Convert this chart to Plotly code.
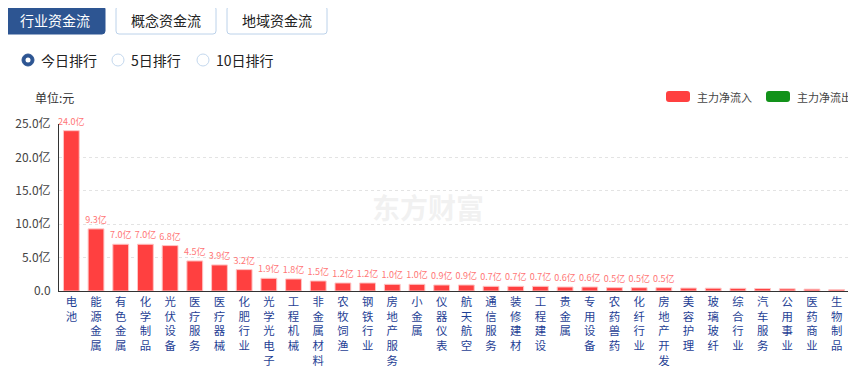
import plotly.graph_objects as go

categories = ["电池", "能源金属", "有色金属", "化学制品", "光伏设备", "医疗服务", "医疗器械", "化肥行业",
              "光学光电子", "工程机械", "非金属材料", "农牧饲渔", "钢铁行业", "房地产服务", "小金属", "仪器仪表",
              "航天航空", "通信服务", "装修建材", "工程建设", "贵金属", "专用设备", "农药兽药", "化纤行业",
              "房地产开发", "美容护理", "玻璃玻纤", "综合行业", "汽车服务", "公用事业", "医药商业", "生物制品"]
inflow = [24.0, 9.3, 7.0, 7.0, 6.8, 4.5, 3.9, 3.2, 1.9, 1.8, 1.5, 1.2, 1.2, 1.0, 1.0, 0.9,
          0.9, 0.7, 0.7, 0.7, 0.6, 0.6, 0.5, 0.5, 0.5, 0.44, 0.42, 0.4, 0.37, 0.33, 0.28, 0.2]
y_ticks = [0, 5, 10, 15, 20, 25]
y_tick_labels = ["0.0", "5.0亿", "10.0亿", "15.0亿", "20.0亿", "25.0亿"]
label_values = inflow[:25]

# page has an 8px body margin: lay out the figure in page pixels minus that offset
OFF = 8
W, H = 856 - OFF, 367 - OFF
L, R, T, B = 59, 849, 124, 291  # plot area in page pixels
FONT = "Noto Sans CJK SC"


def px(x):
    return (x - L) / (R - L)


def py(y):
    return (B - y) / (B - T)


def rrect(x0, y0, x1, y1, r):
    X0, X1 = px(x0), px(x1)
    Y0, Y1 = py(y0), py(y1)
    rx = r / (R - L)
    ry = r / (B - T)
    return (f"M {X0+rx},{Y0} L {X1-rx},{Y0} Q {X1},{Y0} {X1},{Y0-ry} "
            f"L {X1},{Y1+ry} Q {X1},{Y1} {X1-rx},{Y1} L {X0+rx},{Y1} "
            f"Q {X0},{Y1} {X0},{Y1+ry} L {X0},{Y0-ry} Q {X0},{Y0} {X0+rx},{Y0} Z")


texts = [f"{v:.1f}亿" for v in label_values] + [""] * (len(inflow) - len(label_values))
tick_text = ["<br>".join(list(c)) for c in categories]

fig = go.Figure()
fig.add_trace(go.Bar(
    x=categories, y=inflow, text=texts, textposition="outside", constraintext="none",
    textfont=dict(size=9, color="#ff7676", family=FONT),
    marker=dict(color="#ff4040", line=dict(color="#ffc4c4", width=1)),
    cliponaxis=False, showlegend=False, hoverinfo="skip",
))

shapes = []
annotations = []

# top buttons
buttons = [("行业资金流", 5, 105, True), ("概念资金流", 116, 216, False), ("地域资金流", 227, 327, False)]
for label, x0, x1, active in buttons:
    shapes.append(dict(type="path", xref="paper", yref="paper", path=rrect(x0, 6, x1, 34, 3),
                       fillcolor="#2d5592" if active else "white",
                       line=dict(color="#2d5592" if active else "#bcd2ea", width=1)))
    annotations.append(dict(xref="paper", yref="paper", x=px((x0 + x1) / 2), y=py(20), text=label,
                            showarrow=False, font=dict(size=14, color="white" if active else "#222", family=FONT),
                            xanchor="center", yanchor="middle"))

# radio buttons
radios = [("今日排行", 28, True), ("5日排行", 118, False), ("10日排行", 203, False)]
for label, cx, active in radios:
    r = 6
    shapes.append(dict(type="circle", xref="paper", yref="paper",
                       x0=px(cx - r), x1=px(cx + r), y0=py(60 + r), y1=py(60 - r),
                       fillcolor="#2d5592" if active else "white",
                       line=dict(color="#2d5592" if active else "#c4d8ee", width=1)))
    if active:
        r2 = 2.5
        shapes.append(dict(type="circle", xref="paper", yref="paper",
                           x0=px(cx - r2), x1=px(cx + r2), y0=py(60 + r2), y1=py(60 - r2),
                           fillcolor="white", line=dict(width=0)))
    annotations.append(dict(xref="paper", yref="paper", x=px(cx + 11), y=py(60), text=label,
                            showarrow=False, font=dict(size=14, color="#222", family=FONT),
                            xanchor="left", yanchor="middle"))

# unit label
annotations.append(dict(xref="paper", yref="paper", x=px(33), y=py(97), text="单位:元", showarrow=False,
                        font=dict(size=12, color="#333", family=FONT), xanchor="left", yanchor="middle"))

# legend
legend_items = [("主力净流入", 666, "#ff4040"), ("主力净流出", 766, "#12921a")]
for label, x0, col in legend_items:
    shapes.append(dict(type="path", xref="paper", yref="paper", path=rrect(x0, 91, x0 + 24, 102, 3),
                       fillcolor=col, line=dict(width=0)))
    annotations.append(dict(xref="paper", yref="paper", x=px(x0 + 29), y=py(97), text=label, showarrow=False,
                            font=dict(size=11, color="#444", family=FONT), xanchor="left", yanchor="middle"))

# watermark
annotations.append(dict(xref="paper", yref="paper", x=px(428), y=py(207), text="<b>东方财富</b>", showarrow=False,
                        font=dict(size=28, color="rgba(225,225,225,0.45)", family=FONT),
                        xanchor="center", yanchor="middle"))

fig.update_layout(
    width=W, height=H,
    margin=dict(l=L - OFF, r=W - (R - OFF), t=T - OFF, b=H - (B - OFF), pad=0, autoexpand=False),
    paper_bgcolor="white", plot_bgcolor="white",
    bargap=0.36,
    font=dict(family=FONT, size=12, color="#333"),
    shapes=shapes, annotations=annotations,
    xaxis=dict(tickmode="array", tickvals=categories, ticktext=tick_text, tickangle=0,
               tickfont=dict(size=11.4, color="#1f3f95", family=FONT), automargin=False,
               showline=True, linecolor="#333", linewidth=1, ticks="", showgrid=False,
               fixedrange=True),
    yaxis=dict(range=[0, 25], tickmode="array", tickvals=y_ticks, ticktext=y_tick_labels,
               tickfont=dict(size=12, color="#444", family=FONT), automargin=False,
               ticklabelstandoff=5,
               showline=True, linecolor="#333", linewidth=1, ticks="", ticklen=0,
               showgrid=True, gridcolor="#e3e3e3", griddash="3px,3px", zeroline=False,
               fixedrange=True),
)

fig.write_html("out.html")
